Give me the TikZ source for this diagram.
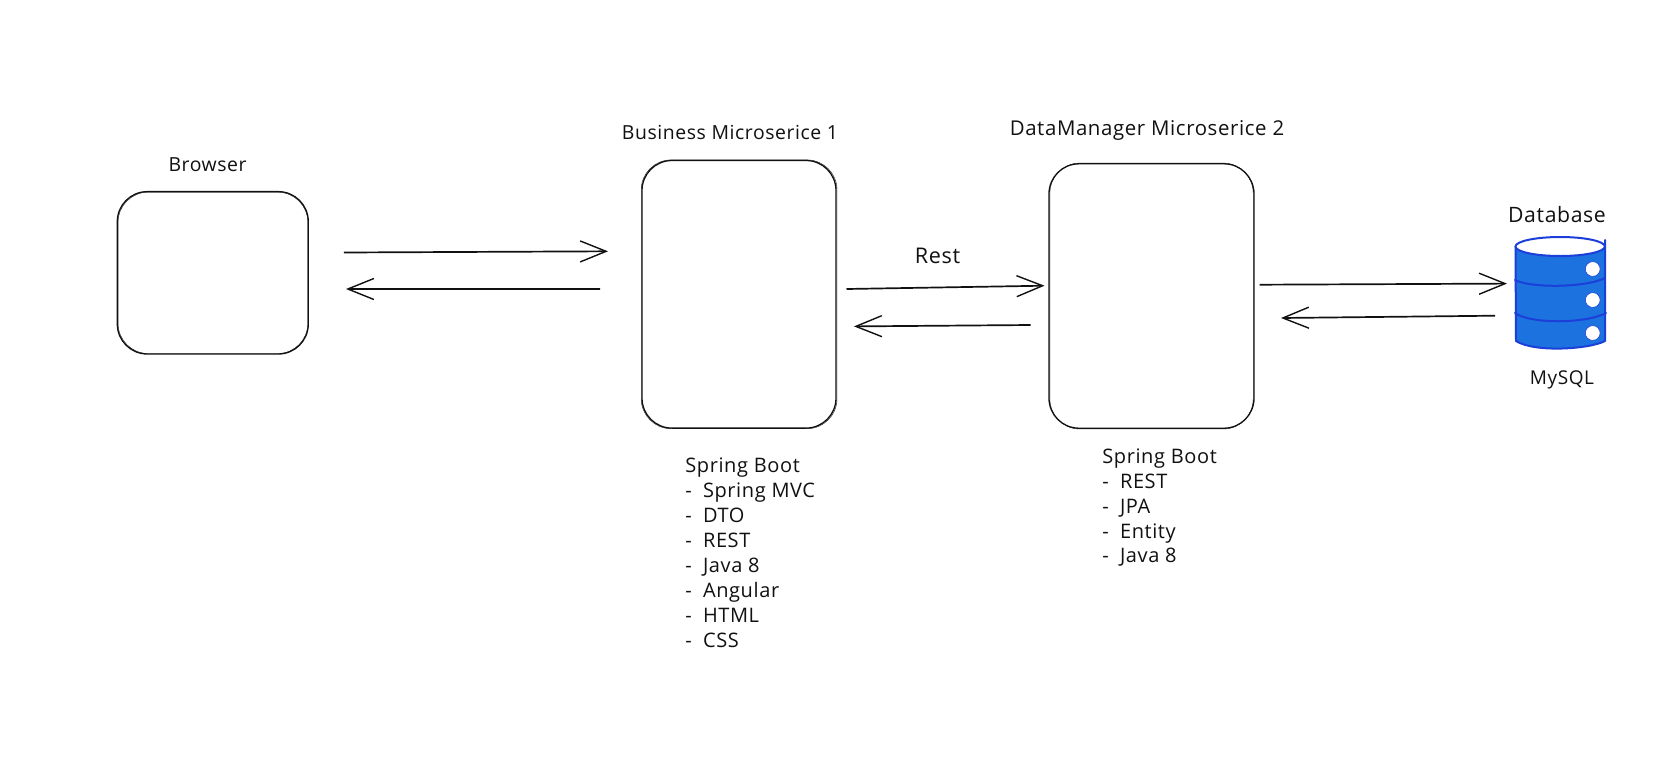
\documentclass[tikz,border=0pt]{standalone}
\usepackage{fontspec}
\setmainfont{Open Sans}[Scale=1.0,LetterSpace=3]
\usetikzlibrary{arrows.meta}
\definecolor{dbfill}{HTML}{1C73E0}
\definecolor{dbline}{HTML}{1B3FD8}
\definecolor{ink}{HTML}{111111}
\newcommand{\sz}[1]{\fontsize{#1}{12}\selectfont}
\newcommand{\dsh}{-\hspace{5.6pt}}
\tikzset{
  x=0.5pt,y=-0.5pt,
  sketchbox/.style={draw=ink,line width=0.65pt,rounded corners=15pt,minimum width=#1,inner sep=0pt,outer sep=0pt},
  sketchline/.style={draw=ink,line width=0.2pt,rounded corners=15pt},
  arr/.style={draw=ink,line width=0.85pt,line join=round,-{Straight Barb[length=13pt,width=10.5pt,line width=0.7pt]}},
  lbl/.style={text=ink,inner sep=0pt},
  lst/.style={lbl,anchor=base west,font=\sz{10}},
  dbedge/.style={draw=dbline,line width=1pt,line cap=round,line join=round},
  dbhole/.style={circle,fill=white,draw=dbline,line width=0.3pt,minimum size=7.4pt,inner sep=0pt},
}
\begin{document}
\begin{tikzpicture}
\useasboundingbox (0,0) rectangle (1678,772);
\fill[white] (0,0) rectangle (1678,772);
% boxes
\node[sketchbox=95.5pt,minimum height=81.2pt] (browser) at (212.8,272.8) {};
\node[sketchbox=97pt,minimum height=133.8pt] (biz) at (739,294.3) {};
\node[sketchbox=102.5pt,minimum height=132.2pt] (dm) at (1151.5,296) {};
\draw[sketchline] ([shift={(0.8,0.6)}]browser.north west) rectangle ([shift={(-0.5,-0.5)}]browser.south east);
\draw[sketchline] ([shift={(-0.8,-0.6)}]biz.north west) rectangle ([shift={(1,0.6)}]biz.south east);
\draw[sketchline] ([shift={(0.9,-0.7)}]dm.north west) rectangle ([shift={(-0.8,0.8)}]dm.south east);
% database
\path[fill=dbfill] (1515.5,246.5) arc[start angle=180,end angle=360,x radius=44.7,y radius=9.5] -- (1605,341) .. controls (1590,349) and (1535,353) .. (1516,341) -- cycle;
\path[dbedge] (1515.5,246.5) -- (1516,341) .. controls (1535,353) and (1590,349) .. (1605,341) -- (1605,240);
\path[draw=dbline,fill=white,line width=1pt] (1560.2,246.5) ellipse[x radius=44.7,y radius=9.5];
\path[dbedge] (1515,280) .. controls (1530,288) and (1585,288) .. (1605,278);
\path[dbedge] (1515,313) .. controls (1530,324) and (1585,324) .. (1606,313);
\node[dbhole] (h1) at (1592.7,269) {};
\node[dbhole] (h2) at (1592.7,300) {};
\node[dbhole] (h3) at (1592.7,333) {};
\coordinate (db) at (1515,296);
% connectors
\draw[arr] ([shift={(35.5,-20.3)}]browser.east) -- ([shift={(-34,-43)}]biz.west);
\draw[arr] ([shift={(-42,-5.3)}]biz.west) -- ([shift={(37.7,16.2)}]browser.east);
\draw[arr] ([shift={(10.5,-5.3)}]biz.east) -- ([shift={(-4.5,-10.3)}]dm.west);
\draw[arr] ([shift={(-18.4,29)}]dm.west) -- ([shift={(18,32.1)}]biz.east);
\draw[arr] ([shift={(5.6,-11.3)}]dm.east) -- ([shift={(-8,-12.4)}]db);
\draw[arr] ([shift={(-20,19.7)}]db) -- ([shift={(27,22)}]dm.east);
% labels
\node[lbl,font=\sz{9.7}] (tbrowser) at (207.6,165) {Browser};
\node[lbl,font=\sz{9.7}] (tbiz) at (730,132) {Business Microserice 1};
\node[lbl,font=\sz{10.2}] (tdm) at (1147,130.5) {DataManager Microserice 2};
\node[lbl,font=\sz{10.8}] (trest) at (937.5,256) {Rest};
\node[lbl,font=\sz{10.6}] (tdb) at (1557,215) {Database};
\node[lbl,font=\sz{9.5}] (tmysql) at (1562,380) {MySQL};
\foreach \n/\yy/\t in {a/472/{Spring Boot},b/497/{\dsh Spring MVC},c/522/{\dsh DTO},d/547/{\dsh REST},e/572/{\dsh Java 8},f/597/{\dsh Angular},g/622/{\dsh HTML},h/647/{\dsh CSS}}
  \node[lst] (l\n) at (685,\yy) {\t};
\foreach \n/\yy/\t in {a/463/{Spring Boot},b/488/{\dsh REST},c/513/{\dsh JPA},d/538/{\dsh Entity},e/562.5/{\dsh Java 8}}
  \node[lst] (r\n) at (1102,\yy) {\t};
\end{tikzpicture}
\end{document}
